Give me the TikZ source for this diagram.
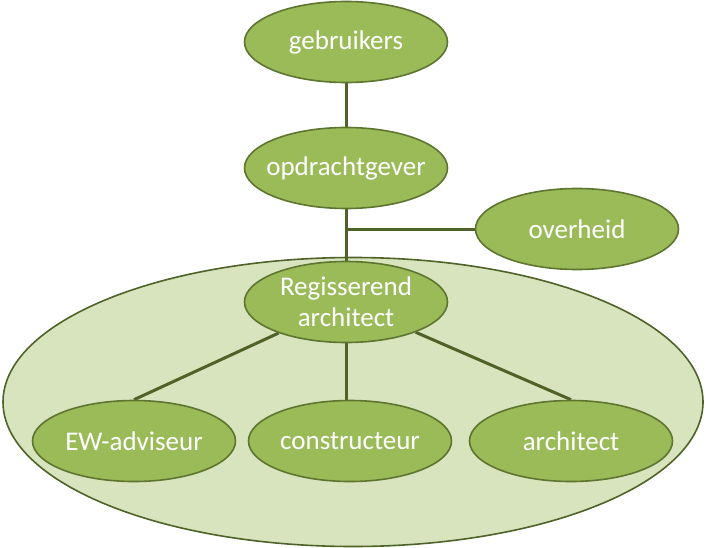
\documentclass[tikz,border=0pt]{standalone}
\usepackage{fontspec}
\setmainfont{Carlito}
\usetikzlibrary{shapes.geometric,backgrounds}
\definecolor{nodefill}{HTML}{9BBB59}
\definecolor{nodeline}{HTML}{5E7530}
\definecolor{bigfill}{HTML}{D7E4BD}
\definecolor{bigline}{HTML}{4F6228}
\definecolor{conn}{HTML}{4F6228}
\tikzset{
  roleell/.style={ellipse, draw=nodeline, fill=nodefill, line width=1.6pt,
    minimum width=203pt, minimum height=81pt, inner xsep=-30pt, inner ysep=-6pt,
    text=white, font=\fontsize{27}{31}\selectfont, align=center},
  groupell/.style={ellipse, draw=bigline, fill=bigfill, line width=1.6pt,
    minimum width=700pt, minimum height=289pt, inner sep=0pt},
  connline/.style={draw=conn, line width=3pt}
}
\begin{document}
\begin{tikzpicture}[x=1pt,y=-1pt]
\useasboundingbox (0,0) rectangle (706,548);
\node[roleell] (geb) at (346,42) {gebruikers};
\node[roleell] (opd) at (346,168) {opdrachtgever};
\node[roleell] (ovh) at (577,229) {overheid};
\node[roleell] (reg) at (346,302) {Regisserend\\architect};
\node[roleell] (ew) at (134,441) {EW-adviseur};
\node[roleell] (con) at (350,441) {constructeur};
\node[roleell] (arc) at (571,441) {architect};
\coordinate (j) at (346,229);
\begin{pgfonlayer}{background}
\node[groupell] (group) at (353,402) {};
\path[connline] (geb) -- (opd);
\path[connline] (opd) -- (reg);
\path[connline] (j) -- (ovh);
\path[connline] (reg) -- (ew.north);
\path[connline] (reg.south) -- (reg.south |- con.north);
\path[connline] (reg) -- (arc.north);
\end{pgfonlayer}
\end{tikzpicture}
\end{document}
